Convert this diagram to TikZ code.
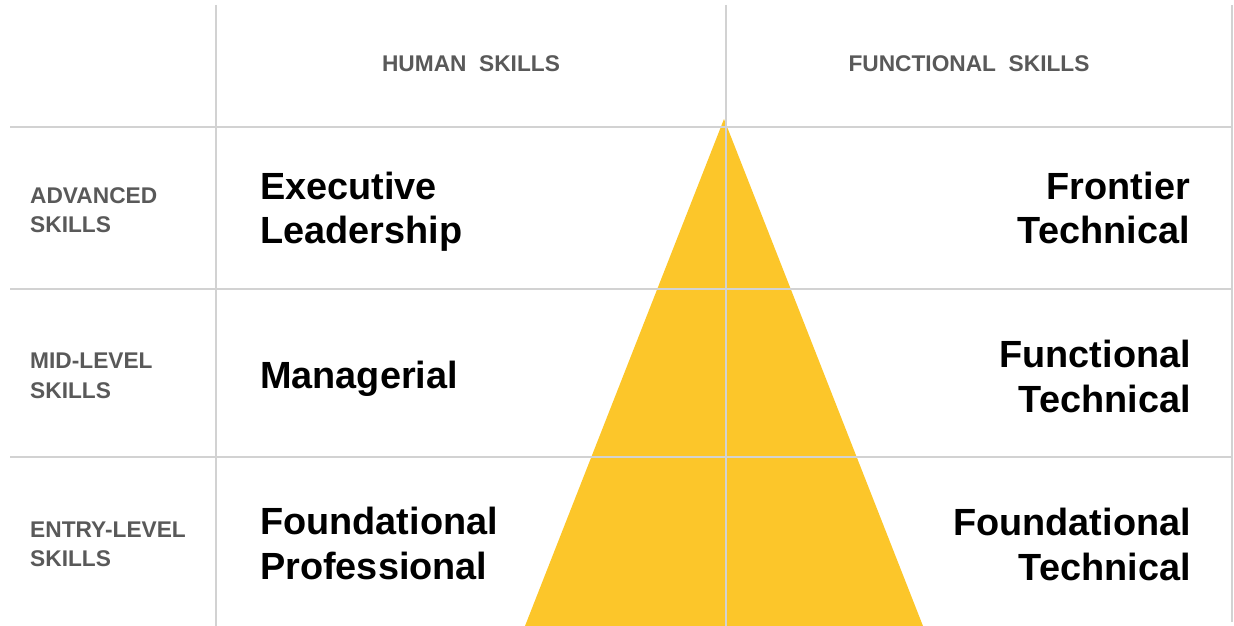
\documentclass[tikz,border=0pt]{standalone}
\usepackage{fontspec}
\setmainfont{Liberation Sans}
\definecolor{gridgray}{RGB}{210,210,210}
\definecolor{labgray}{RGB}{89,89,89}
\definecolor{pyr}{RGB}{252,198,42}
\begin{document}
\begin{tikzpicture}[x=1bp,y=-1bp,
  gridline/.style={draw=gridgray, line width=2bp},
  biglab/.style={font=\fontsize{38}{45}\selectfont\bfseries, text=black, inner sep=0pt},
  smalllab/.style={font=\fontsize{22.8}{29.5}\selectfont\bfseries, text=labgray, inner sep=0pt, align=left, anchor=base west},
  headlab/.style={font=\fontsize{22.8}{26}\selectfont\bfseries, text=labgray, inner sep=0pt, anchor=base}]
\useasboundingbox (0,0) rectangle (1234,626);
% pyramid
\coordinate (apex) at (724,119);
\coordinate (bl) at (525,626);
\coordinate (br) at (923,626);
\fill[pyr] (apex) -- (br) -- (bl) -- cycle;
% grid
\coordinate (h1l) at (10,127);   \coordinate (h1r) at (1233,127);
\coordinate (h2l) at (10,289);   \coordinate (h2r) at (1233,289);
\coordinate (h3l) at (10,457);   \coordinate (h3r) at (1233,457);
\coordinate (v1t) at (216,5);    \coordinate (v1b) at (216,626);
\coordinate (v2t) at (726,5);    \coordinate (v2b) at (726,626);
\coordinate (v3t) at (1232,5);   \coordinate (v3b) at (1232,622);
\draw[gridline] (h1l) -- (h1r);
\draw[gridline] (h2l) -- (h2r);
\draw[gridline] (h3l) -- (h3r);
\draw[gridline] (v1t) -- (v1b);
\draw[gridline] (v2t) -- (v2b);
\draw[gridline] (v3t) -- (v3b);
% headers
\node[headlab] (hhuman) at (471,72) {HUMAN\ \ SKILLS};
\node[headlab] (hfunc) at (969,72) {FUNCTIONAL\ \ SKILLS};
% row labels (anchor = baseline of last line)
\node[smalllab] (radv) at (30,232.5) {ADVANCED\\SKILLS};
\node[smalllab] (rmid) at (30,398) {MID-LEVEL\\SKILLS};
\node[smalllab] (rentry) at (30,566.5) {ENTRY-LEVEL\\SKILLS};
% left labels
\node[biglab, align=left, anchor=base west] (exec) at (260,244) {Executive\\Leadership};
\node[biglab, align=left, anchor=base west] (mgr) at (260,388) {Managerial};
\node[biglab, align=left, anchor=base west] (fprof) at (260,579) {Foundational\\Professional};
% right labels
\node[biglab, align=right, anchor=base east] (front) at (1190,244) {Frontier\\Technical};
\node[biglab, align=right, anchor=base east] (ftech) at (1191,412) {Functional\\Technical};
\node[biglab, align=right, anchor=base east] (fdtech) at (1191,580) {Foundational\\Technical};
\end{tikzpicture}
\end{document}
